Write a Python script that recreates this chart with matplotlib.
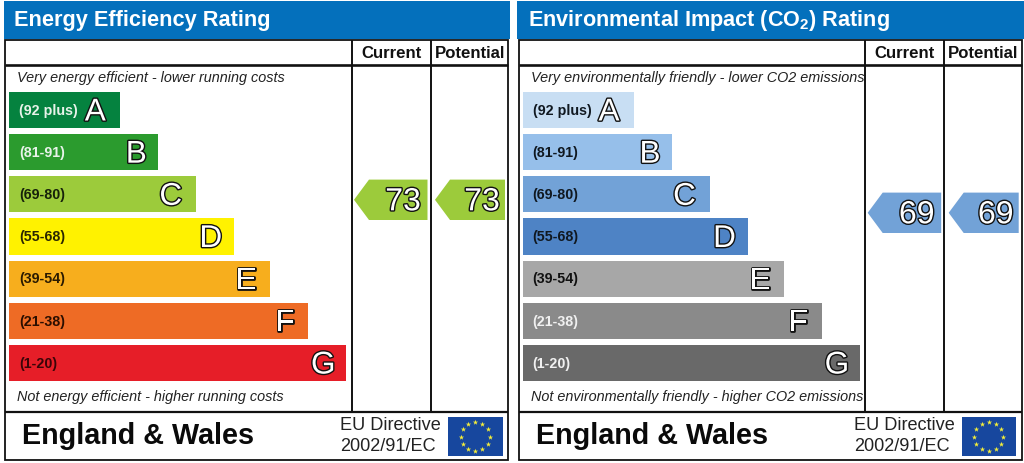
import math
import matplotlib
matplotlib.use("Agg")
import matplotlib.pyplot as plt
from matplotlib.patches import Polygon, Rectangle
import matplotlib.patheffects as pe

plt.rcParams['font.family'] = ['Liberation Sans', 'DejaVu Sans']
plt.rcParams['mathtext.fontset'] = 'custom'
plt.rcParams['mathtext.bf'] = 'Liberation Sans:bold'
plt.rcParams['mathtext.rm'] = 'Liberation Sans:bold'

letters = ['A', 'B', 'C', 'D', 'E', 'F', 'G']
ranges = ['(92 plus)', '(81-91)', '(69-80)', '(55-68)', '(39-54)', '(21-38)', '(1-20)']
band_lengths = [111, 149, 186.5, 224.5, 261, 299, 337]

energy_title = 'Energy Efficiency Rating'
energy_top = 'Very energy efficient - lower running costs'
energy_bottom = 'Not energy efficient - higher running costs'
energy_colors = ['#05823f', '#2b9b2e', '#9ccb3b', '#fff200', '#f7ae1d', '#ee6b25', '#e61e28']
energy_label_colors = ['#e8f3ea', '#e8f3ea', '#16210a', '#2a2600', '#2a1a00', '#2a0e00', '#3a0508']
energy_current = 73
energy_potential = 73
energy_arrow = '#9ccb3b'

env_title = r'Environmental Impact (CO$\mathbf{_2}$) Rating'
env_top = 'Very environmentally friendly - lower CO2 emissions'
env_bottom = 'Not environmentally friendly - higher CO2 emissions'
env_colors = ['#c8def3', '#96bfea', '#72a2d7', '#4e83c5', '#a7a7a7', '#8a8a8a', '#696969']
env_label_colors = ['#101820', '#101820', '#101820', '#101820', '#111111', '#f0f0f0', '#f0f0f0']
env_current = 69
env_potential = 69
env_arrow = '#72a2d7'

region = 'England & Wales'
directive = ['EU Directive', '2002/91/EC']
col_heads = ['Current', 'Potential']

PX = 0.72  # px -> pt at dpi 100
LETTER_INSET = [25, 22, 25, 23, 24, 23.5, 23]

fig = plt.figure(figsize=(10.24, 4.63), dpi=100, facecolor='white')
ax = fig.add_axes([0, 0, 1, 1])
ax.set_xlim(0, 1024)
ax.set_ylim(463, 0)
ax.axis('off')


def rating_y(r):
    return 199.8 + (73 - r) * 3.25


def outlined(x, y, s, size, lw):
    ax.text(x, y, s, fontsize=size * PX, color='white', ha='center', va='center_baseline',
            fontweight='normal', zorder=6,
            path_effects=[pe.withStroke(linewidth=lw, foreground='#111111')])


def arrow(x0, x1, r, color, inset):
    yc = rating_y(r)
    h = 20.2
    sh = x0 + 15
    ax.add_patch(Polygon([(x0, yc), (sh, yc - h), (x1, yc - h), (x1, yc + h), (sh, yc + h)],
                         closed=True, fc=color, ec='none', zorder=3))
    outlined(x1 - inset, yc - 1, str(r), 32, 2.0)


def panel(off, hdr_x0, hdr_x1, title, tsize, top, bottom, colors, label_cols, cur, pot, acol):
    L, R = 5 + off, 508 + off
    c1, c2 = 351.5 + off, 430.5 + off
    ax.add_patch(Rectangle((hdr_x0, 1), hdr_x1 - hdr_x0, 38, fc='#0470bc', ec='none', zorder=1))
    ax.text(14.5 + off, 20.5, title, color='white', fontsize=tsize * PX, fontweight='bold',
            va='center', ha='left', zorder=5)
    ax.add_patch(Rectangle((L, 39.5), R - L, 420, fc='none', ec='#111111', lw=1.3, zorder=4))
    ax.plot([L, R], [64.5, 64.5], color='#111111', lw=1.9, zorder=4, solid_capstyle='butt')
    ax.plot([L, R], [411.5, 411.5], color='#111111', lw=1.6, zorder=4, solid_capstyle='butt')
    for cx in (c1, c2):
        ax.plot([cx, cx], [39.5, 411.5], color='#111111', lw=1.4, zorder=4, solid_capstyle='butt')
    ax.text((c1 + c2) / 2, 53, col_heads[0], ha='center', va='center', fontweight='bold',
            fontsize=16.8 * PX, color='#111111')
    ax.text((c2 + R) / 2 + 0.5, 53, col_heads[1], ha='center', va='center', fontweight='bold',
            fontsize=16.8 * PX, color='#111111')
    ax.text(17 + off, 77.7, top, style='italic', fontsize=14.45 * PX, va='center', ha='left', color='#222222')
    ax.text(17 + off, 396.7, bottom, style='italic', fontsize=14.45 * PX, va='center', ha='left', color='#222222')
    ys = [110 + i * 42.17 for i in range(7)]
    ax.barh(ys, band_lengths, left=9.3 + off, height=36.3, color=colors, edgecolor='none', zorder=2)
    for i, y in enumerate(ys):
        ax.text(19 + off, y + 0.8, ranges[i], fontsize=14.2 * PX, fontweight='bold', color=label_cols[i],
                va='center', ha='left', zorder=5)
        outlined(9.3 + off + band_lengths[i] - LETTER_INSET[i], y - 1, letters[i], 31.5, 2.0)
    arrow(354 + off, 427.5 + off, cur, acol, 24.5)
    arrow(435 + off, 505 + off, pot, acol, 23)
    ax.text(22 + off, 436.5, region, fontsize=28.8 * PX, fontweight='bold', color='#0a0a0a',
            va='center', ha='left')
    ax.text(340.5 + off, 425, directive[0], fontsize=18.2 * PX, color='#222222', va='center', ha='left')
    ax.text(340.5 + off, 446.5, directive[1], fontsize=18.2 * PX, color='#222222', va='center', ha='left')
    ax.add_patch(Rectangle((448 + off, 417), 54.5, 39, fc='#17479e', ec='none', zorder=2))
    sx = [475.2 + off + 14.5 * math.sin(math.radians(a)) for a in range(0, 360, 30)]
    sy = [436.5 + 14.5 * math.cos(math.radians(a)) for a in range(0, 360, 30)]
    ax.scatter(sx, sy, marker='*', s=16, color='#f4ee3a', linewidths=0, zorder=3)


panel(0, 3.5, 510, energy_title, 21.8, energy_top, energy_bottom, energy_colors, energy_label_colors,
      energy_current, energy_potential, energy_arrow)
panel(513.7, 516.5, 1024, env_title, 21.65, env_top, env_bottom, env_colors, env_label_colors,
      env_current, env_potential, env_arrow)

fig.savefig('out.png', dpi=100, facecolor='white')
